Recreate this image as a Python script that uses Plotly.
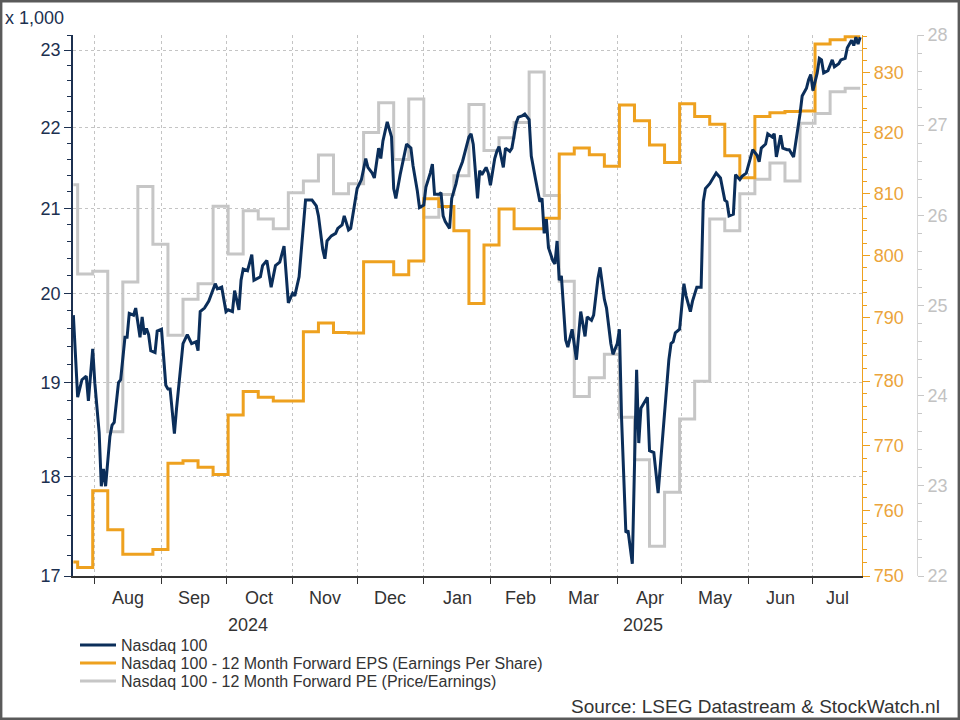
import math
import pandas as pd
import plotly.graph_objects as go

# ---------------- data ----------------
nasdaq_dates = [
    "2024-07-22", "2024-07-23", "2024-07-24", "2024-07-26", "2024-07-28", "2024-07-29", "2024-07-31",
    "2024-08-01", "2024-08-03", "2024-08-04", "2024-08-05", "2024-08-06", "2024-08-08", "2024-08-09",
    "2024-08-10", "2024-08-12", "2024-08-13", "2024-08-15", "2024-08-16", "2024-08-17", "2024-08-19",
    "2024-08-20", "2024-08-22", "2024-08-23", "2024-08-24", "2024-08-25", "2024-08-26", "2024-08-27",
    "2024-08-29", "2024-08-30", "2024-09-01", "2024-09-03", "2024-09-04", "2024-09-05", "2024-09-07",
    "2024-09-08", "2024-09-10", "2024-09-11", "2024-09-13", "2024-09-15", "2024-09-17", "2024-09-18",
    "2024-09-19", "2024-09-21", "2024-09-23", "2024-09-24", "2024-09-26", "2024-09-27", "2024-09-29",
    "2024-10-01", "2024-10-02", "2024-10-04", "2024-10-05", "2024-10-07", "2024-10-08", "2024-10-09",
    "2024-10-11", "2024-10-13", "2024-10-14", "2024-10-17", "2024-10-18", "2024-10-20", "2024-10-22",
    "2024-10-24", "2024-10-26", "2024-10-28", "2024-10-29", "2024-10-30", "2024-11-01", "2024-11-02",
    "2024-11-04", "2024-11-06", "2024-11-07", "2024-11-10", "2024-11-12", "2024-11-13", "2024-11-15",
    "2024-11-16", "2024-11-17", "2024-11-19", "2024-11-21", "2024-11-22", "2024-11-24", "2024-11-25",
    "2024-11-27", "2024-11-28", "2024-11-30", "2024-12-01", "2024-12-03", "2024-12-05", "2024-12-06",
    "2024-12-08", "2024-12-09", "2024-12-11", "2024-12-12", "2024-12-13", "2024-12-15", "2024-12-17",
    "2024-12-18", "2024-12-19", "2024-12-21", "2024-12-23", "2024-12-24", "2024-12-26", "2024-12-27",
    "2024-12-29", "2024-12-30", "2025-01-01", "2025-01-02", "2025-01-04", "2025-01-05", "2025-01-06",
    "2025-01-08", "2025-01-09", "2025-01-10", "2025-01-11", "2025-01-13", "2025-01-14", "2025-01-16",
    "2025-01-17", "2025-01-19", "2025-01-22", "2025-01-23", "2025-01-24", "2025-01-26", "2025-01-27",
    "2025-01-28", "2025-01-30", "2025-01-31", "2025-02-01", "2025-02-03", "2025-02-04", "2025-02-05",
    "2025-02-07", "2025-02-08", "2025-02-10", "2025-02-11", "2025-02-13", "2025-02-14", "2025-02-16",
    "2025-02-17", "2025-02-19", "2025-02-20", "2025-02-22", "2025-02-24", "2025-02-25", "2025-02-26",
    "2025-02-27", "2025-02-28", "2025-03-02", "2025-03-03", "2025-03-04", "2025-03-05", "2025-03-06",
    "2025-03-08", "2025-03-09", "2025-03-11", "2025-03-13", "2025-03-15", "2025-03-17", "2025-03-18",
    "2025-03-20", "2025-03-21", "2025-03-23", "2025-03-24", "2025-03-26", "2025-03-27", "2025-03-29",
    "2025-03-30", "2025-04-01", "2025-04-02", "2025-04-03", "2025-04-05", "2025-04-06", "2025-04-08",
    "2025-04-10", "2025-04-11", "2025-04-12", "2025-04-15", "2025-04-16", "2025-04-18", "2025-04-20",
    "2025-04-22", "2025-04-24", "2025-04-25", "2025-04-26", "2025-04-27", "2025-04-28", "2025-04-30",
    "2025-05-02", "2025-05-03", "2025-05-05", "2025-05-06", "2025-05-08", "2025-05-10", "2025-05-11",
    "2025-05-12", "2025-05-14", "2025-05-16", "2025-05-17", "2025-05-19", "2025-05-21", "2025-05-22",
    "2025-05-23", "2025-05-25", "2025-05-26", "2025-05-28", "2025-05-29", "2025-05-31", "2025-06-02",
    "2025-06-03", "2025-06-05", "2025-06-06", "2025-06-07", "2025-06-09", "2025-06-10", "2025-06-12",
    "2025-06-13", "2025-06-14", "2025-06-16", "2025-06-17", "2025-06-19", "2025-06-20", "2025-06-22",
    "2025-06-23", "2025-06-25", "2025-06-26", "2025-06-28", "2025-06-29", "2025-06-30", "2025-07-01",
    "2025-07-03", "2025-07-04", "2025-07-05", "2025-07-06", "2025-07-08", "2025-07-10", "2025-07-11",
    "2025-07-13", "2025-07-14", "2025-07-16", "2025-07-17", "2025-07-19", "2025-07-20", "2025-07-21",
    "2025-07-22", "2025-07-23",
]
nasdaq_vals = [  # x 1,000
    19.75, 19.23, 18.84, 19.03, 19.07, 18.80, 19.37,
    18.99, 18.46, 17.90, 18.08, 17.90, 18.42, 18.54,
    18.57, 19.00, 19.03, 19.50, 19.50, 19.77, 19.75,
    19.83, 19.50, 19.73, 19.53, 19.60, 19.53, 19.35,
    19.33, 19.57, 19.59, 18.97, 18.93, 18.93, 18.45,
    18.72, 19.15, 19.43, 19.53, 19.43, 19.45, 19.35,
    19.79, 19.83, 19.91, 19.97, 20.11, 20.05, 20.07,
    19.79, 19.81, 19.79, 20.03, 19.81, 20.15, 20.28,
    20.26, 20.45, 20.15, 20.19, 20.32, 20.38, 20.07,
    20.32, 20.36, 20.55, 20.19, 19.89, 20.00, 19.97,
    20.19, 20.87, 21.10, 21.10, 21.03, 20.91, 20.51,
    20.40, 20.61, 20.67, 20.70, 20.76, 20.80, 20.91,
    20.74, 20.76, 21.08, 21.24, 21.35, 21.61, 21.50,
    21.43, 21.37, 21.74, 21.61, 21.83, 22.07, 21.88,
    21.24, 21.12, 21.41, 21.68, 21.79, 21.74, 21.52,
    21.21, 21.01, 21.04, 21.26, 21.43, 21.54, 21.17,
    21.17, 21.19, 20.91, 20.84, 20.76, 21.12, 21.30,
    21.43, 21.57, 21.88, 21.92, 21.79, 21.12, 21.46,
    21.41, 21.50, 21.43, 21.28, 21.61, 21.70, 21.76,
    21.50, 21.74, 21.70, 21.74, 22.06, 22.13, 22.15,
    22.17, 22.10, 21.64, 21.35, 21.08, 21.12, 20.70,
    20.87, 20.53, 20.38, 20.34, 20.61, 20.15, 20.20,
    19.47, 19.39, 19.59, 19.25, 19.79, 19.51, 19.73,
    19.69, 19.75, 20.17, 20.30, 19.93, 19.83, 19.43,
    19.31, 19.43, 19.59, 18.61, 17.43, 17.45, 17.12,
    19.14, 18.35, 18.72, 18.84, 18.27, 18.25, 17.83,
    18.38, 18.95, 19.25, 19.43, 19.45, 19.55, 19.59,
    20.11, 19.97, 19.79, 19.91, 20.07, 20.07, 21.08,
    21.24, 21.30, 21.39, 21.43, 21.37, 21.10, 21.08,
    20.91, 20.93, 21.41, 21.35, 21.39, 21.43, 21.61,
    21.72, 21.65, 21.57, 21.74, 21.79, 21.92, 21.88,
    21.92, 21.63, 21.90, 21.74, 21.72, 21.72, 21.63,
    21.79, 22.17, 22.40, 22.50, 22.61, 22.68, 22.47,
    22.70, 22.89, 22.87, 22.70, 22.73, 22.87, 22.78,
    22.82, 22.87, 22.89, 23.03, 23.13, 23.06, 23.17,
    23.08, 23.17,
]

step_dates = [
    "2024-07-22", "2024-07-24", "2024-07-31",
    "2024-08-07", "2024-08-14", "2024-08-21", "2024-08-28",
    "2024-09-04", "2024-09-11", "2024-09-18", "2024-09-25",
    "2024-10-02", "2024-10-09", "2024-10-16", "2024-10-23", "2024-10-30",
    "2024-11-06", "2024-11-13", "2024-11-20", "2024-11-27",
    "2024-12-04", "2024-12-11", "2024-12-18", "2024-12-25",
    "2025-01-01", "2025-01-08", "2025-01-15", "2025-01-22", "2025-01-29",
    "2025-02-05", "2025-02-12", "2025-02-19", "2025-02-26",
    "2025-03-05", "2025-03-12", "2025-03-19", "2025-03-26",
    "2025-04-02", "2025-04-09", "2025-04-16", "2025-04-23", "2025-04-30",
    "2025-05-07", "2025-05-14", "2025-05-21", "2025-05-28",
    "2025-06-04", "2025-06-11", "2025-06-18", "2025-06-25",
    "2025-07-02", "2025-07-09", "2025-07-16", "2025-07-23",
]
eps_vals = [
    752.1, 751.3, 763.0,
    757.0, 753.3, 753.3, 754.0,
    767.2, 767.6, 766.6, 765.5,
    774.7, 778.4, 777.5, 776.9, 776.9,
    787.8, 789.2, 787.7, 787.6,
    799.0, 799.0, 796.9, 799.1,
    809.2, 807.9, 804.0, 792.3, 801.7,
    807.5, 804.3, 804.3, 806.0,
    816.5, 817.5, 816.4, 814.5,
    824.6, 822.0, 818.0, 815.1, 824.8,
    822.7, 821.4, 816.2, 812.6,
    822.7, 823.3, 823.5, 823.6,
    834.8, 835.5, 836.0, 836.0,
]
pe_vals = [
    26.34, 25.35, 25.38,
    23.60, 25.26, 26.32, 25.68,
    24.67, 25.07, 25.24, 26.10,
    25.57, 26.05, 25.96, 25.85, 26.25,
    26.38, 26.67, 26.24, 26.35,
    26.92, 27.25, 26.62, 27.29,
    25.98, 26.23, 26.44, 27.23, 26.72,
    26.86, 27.03, 27.59, 26.22,
    25.27, 23.99, 24.20, 24.46,
    23.76, 23.29, 22.33, 22.93, 23.74,
    24.16, 25.96, 25.83, 26.24,
    26.40, 26.58, 26.38, 27.02,
    27.13, 27.37, 27.41, 27.41,
]

names = [
    "Nasdaq 100",
    "Nasdaq 100 - 12 Month Forward EPS (Earnings Per Share)",
    "Nasdaq 100 - 12 Month Forward PE (Price/Earnings)",
]
month_labels = ["Aug", "Sep", "Oct", "Nov", "Dec", "Jan", "Feb", "Mar", "Apr", "May", "Jun", "Jul"]
month_starts = ["2024-08-01", "2024-09-01", "2024-10-01", "2024-11-01", "2024-12-01", "2025-01-01",
                "2025-02-01", "2025-03-01", "2025-04-01", "2025-05-01", "2025-06-01", "2025-07-01"]
year_labels = ["2024", "2025"]
year_starts = ["2025-01-01"]

left_ticks = [17, 18, 19, 20, 21, 22, 23]
left_minor = [round(17 + 0.2 * i, 1) for i in range(32) if (i % 5) != 0]
eps_ticks = [750, 760, 770, 780, 790, 800, 810, 820, 830]
eps_minor = [v for v in range(750, 838, 2) if v % 10 != 0]
pe_ticks = [22, 23, 24, 25, 26, 27, 28]
pe_minor = [round(22 + 0.2 * i, 1) for i in range(31) if (i % 5) != 0]

x_range = ["2024-07-21 20:00", "2025-07-23 20:00"]

# ---------------- styling / layout geometry ----------------
W, H = 960, 720
L, R, T, B = 73, 40, 35, 144
PW, PH = W - L - R, H - T - B
def px_x(p):
    return (p - L) / PW
def px_y(p):
    return (H - B - p) / PH

NAVY = "#0b2e5a"
ORANGE = "#eea11f"
GRAY = "#c6c6c6"
FONT = "Liberation Sans, Arial, sans-serif"
LW = 3

fig = go.Figure()
fig.add_trace(go.Scatter(x=step_dates, y=pe_vals, name=names[2], mode="lines", line_shape="hv",
                         line=dict(color=GRAY, width=LW), yaxis="y", legend="legend3"))
fig.add_trace(go.Scatter(x=step_dates, y=eps_vals, name=names[1], mode="lines", line_shape="hv",
                         line=dict(color=ORANGE, width=LW), yaxis="y2", legend="legend2"))
fig.add_trace(go.Scatter(x=nasdaq_dates, y=nasdaq_vals, name=names[0], mode="lines",
                         line=dict(color=NAVY, width=LW), yaxis="y3", legend="legend"))

grid = dict(showgrid=True, gridcolor="#c4c4c4", griddash="dot", gridwidth=1)

def leg(ypx):
    return dict(x=px_x(75), y=px_y(ypx), xanchor="left", yanchor="middle",
                font=dict(size=16, color="#333333"), bgcolor="rgba(0,0,0,0)",
                itemwidth=36, borderwidth=0)

fig.update_layout(
    width=W, height=H,
    margin=dict(l=L, r=R, t=T, b=B, pad=0, autoexpand=False),
    paper_bgcolor="white", plot_bgcolor="white",
    font=dict(family=FONT, size=18, color="#333333"),
    showlegend=True,
    legend=leg(645), legend2=leg(663), legend3=leg(681),
    xaxis=dict(type="date", range=x_range, domain=[0, px_x(862)],
               tickmode="array", tickvals=month_starts, showticklabels=False,
               ticks="outside", ticklen=6, tickwidth=1.3, tickcolor="#333333",
               showline=True, linecolor="#333333", linewidth=1.5, zeroline=False,
               **grid),
    yaxis=dict(range=[22, 28], anchor="free", position=px_x(917), side="right",
               tickmode="array", tickvals=pe_ticks, ticks="outside", ticklen=6, tickwidth=1,
               tickcolor="#c8c8c8", showline=True, linecolor="#d6d6d6", linewidth=1,
               tickfont=dict(color="#c2c2c2", size=18), showgrid=False, zeroline=False,
               minor=dict(tickmode="array", tickvals=pe_minor, ticks="outside", ticklen=4,
                          tickcolor="#c8c8c8", showgrid=False)),
    yaxis2=dict(type="log", range=[math.log10(750), math.log10(836.3)], overlaying="y",
                anchor="x", side="right",
                tickmode="array", tickvals=eps_ticks, ticks="outside", ticklen=7, tickwidth=1,
                tickcolor=ORANGE, showline=True, linecolor=ORANGE, linewidth=1.2,
                tickfont=dict(color="#eba43a", size=18), showgrid=False, zeroline=False,
                minor=dict(tickmode="array", tickvals=eps_minor, ticks="outside", ticklen=4,
                           tickcolor=ORANGE, showgrid=False)),
    yaxis3=dict(type="log", range=[math.log10(17), math.log10(23.2)], overlaying="y",
                anchor="x", side="left",
                tickmode="array", tickvals=left_ticks, ticks="outside", ticklen=7, tickwidth=1.2,
                tickcolor="#1c3050", showline=True, linecolor="#1c3050", linewidth=1.5,
                tickfont=dict(color="#1c3050", size=18), zeroline=False,
                minor=dict(tickmode="array", tickvals=left_minor, ticks="outside", ticklen=4,
                           tickcolor="#1c3050", showgrid=False),
                **grid),
)

# month labels centred in the visible part of each month
rng0, rng1 = pd.Timestamp(x_range[0]), pd.Timestamp(x_range[1])
annotations = []
for i, lab in enumerate(month_labels):
    a = max(pd.Timestamp(month_starts[i]), rng0)
    b = pd.Timestamp(month_starts[i + 1]) if i + 1 < len(month_starts) else rng1
    b = min(b, rng1)
    mid = a + (b - a) / 2
    annotations.append(dict(x=mid.strftime("%Y-%m-%d %H:%M"), y=px_y(598), xref="x", yref="paper",
                            text=lab, showarrow=False, xanchor="center", yanchor="middle",
                            font=dict(size=18, color="#333333")))
ybounds = [rng0, pd.Timestamp(year_starts[0]), rng1]
for i, lab in enumerate(year_labels):
    mid = ybounds[i] + (ybounds[i + 1] - ybounds[i]) / 2
    annotations.append(dict(x=mid.strftime("%Y-%m-%d %H:%M"), y=px_y(625), xref="x", yref="paper",
                            text=lab, showarrow=False, xanchor="center", yanchor="middle",
                            font=dict(size=18, color="#333333")))
annotations.append(dict(x=px_x(3), y=px_y(18), xref="paper", yref="paper", text="x 1,000",
                        showarrow=False, xanchor="left", yanchor="middle",
                        font=dict(size=18, color="#1c3050")))
annotations.append(dict(x=px_x(942), y=px_y(706), xref="paper", yref="paper",
                        text="Source: LSEG Datastream & StockWatch.nl",
                        showarrow=False, xanchor="right", yanchor="middle",
                        font=dict(size=19, color="#333333")))
fig.update_layout(annotations=annotations)

# outer frame of the image
fig.add_shape(type="rect", xref="paper", yref="paper",
              x0=px_x(1.2), x1=px_x(958.8), y0=px_y(718.8), y1=px_y(1.2),
              line=dict(color="#5a5a5a", width=2.4), fillcolor="rgba(0,0,0,0)", layer="above")

fig.write_html("out.html")
